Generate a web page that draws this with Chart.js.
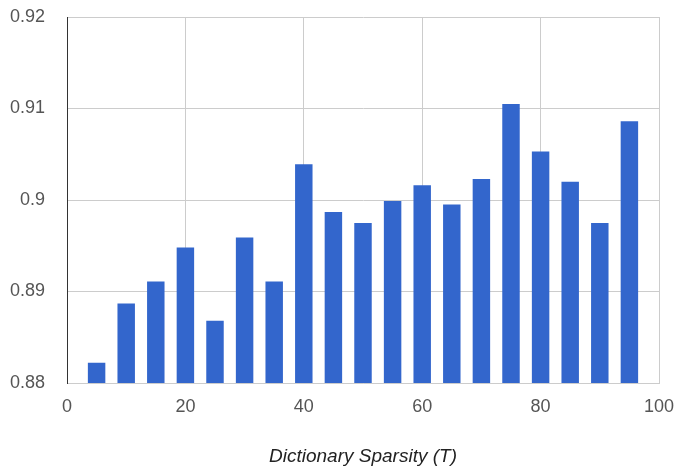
<!DOCTYPE html>
<html>
<head>
<meta charset="utf-8">
<script src="https://cdn.jsdelivr.net/npm/chart.js@4"></script>
<style>
  html, body { margin: 0; padding: 0; background: #fff; }
  #wrap { width: 678px; height: 466px; }
</style>
</head>
<body>
<div id="wrap"><canvas id="c"></canvas></div>
<script>
// sparsity levels T and the score
const sparsity = [5, 10, 15, 20, 25, 30, 35, 40, 45, 50, 55, 60, 65, 70, 75, 80, 85, 90, 95];
const scores = [0.8822, 0.8887, 0.8911, 0.8948, 0.8868, 0.8959, 0.8911, 0.9039, 0.8987, 0.8975,
                0.8999, 0.9016, 0.8995, 0.9023, 0.9105, 0.9053, 0.9020, 0.8975, 0.9086];
const xTitle = 'Dictionary Sparsity (T)';

const FONT = 'Liberation Sans, Arial, sans-serif';

new Chart(document.getElementById('c').getContext('2d'), {
  type: 'bar',
  data: {
    datasets: [{
      data: sparsity.map((t, i) => ({ x: t, y: scores[i] })),
      backgroundColor: '#3366cc',
      borderWidth: 0,
      barPercentage: 0.59,
      categoryPercentage: 1
    }]
  },
  options: {
    responsive: true, maintainAspectRatio: false,
    animation: false,
    layout: { padding: 0 },
    plugins: { legend: { display: false }, tooltip: { enabled: false } },
    scales: {
      x: {
        type: 'linear', min: 0, max: 100, offset: false,
        grid: { color: '#cccccc', drawTicks: false, offset: false },
        border: { color: '#cccccc' },
        ticks: { stepSize: 20, color: '#555', padding: 13, font: { family: FONT, size: 18 } },
        title: {
          display: true, text: xTitle, color: '#222', padding: { top: 0, bottom: -2 },
          font: { family: FONT, size: 19, style: 'italic' }
        },
        // pin the plot edges where the reference has them
        afterFit: s => { s.height = 83; s.paddingLeft = 0; s.paddingRight = 19; }
      },
      y: {
        min: 0.88, max: 0.92,
        grid: { color: '#cccccc', drawTicks: false },
        border: { color: '#333333', width: 1 },
        ticks: {
          stepSize: 0.01, color: '#555', padding: 22,
          font: { family: FONT, size: 18 },
          callback: v => String(parseFloat(v.toFixed(2)))
        },
        afterFit: s => { s.width = 67; s.paddingTop = 17; s.paddingBottom = 0; }
      }
    }
  }
});
</script>
</body>
</html>
